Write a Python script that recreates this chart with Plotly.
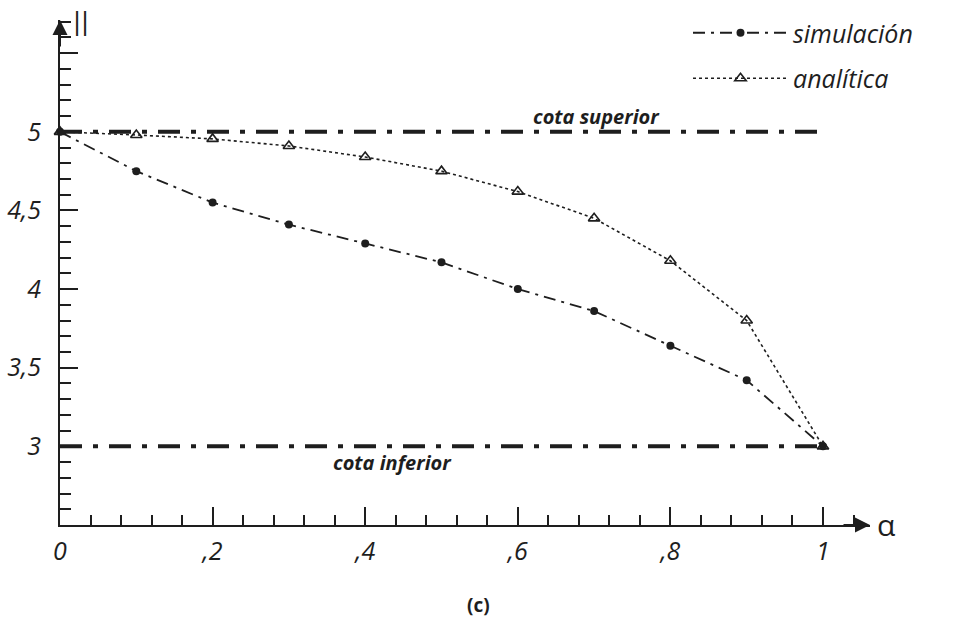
import plotly.graph_objects as go

# ---- data ----
alpha = [0.0, 0.1, 0.2, 0.3, 0.4, 0.5, 0.6, 0.7, 0.8, 0.9, 1.0]
simulacion = [5.0, 4.75, 4.55, 4.41, 4.29, 4.17, 4.0, 3.86, 3.64, 3.42, 3.0]
analitica = [5.0, 4.98, 4.955, 4.91, 4.84, 4.75, 4.62, 4.45, 4.18, 3.80, 3.0]
cota_x = [0.0, 1.0]
cota_superior = [5.0, 5.0]
cota_inferior = [3.0, 3.0]
x_tickvals = [0, 0.2, 0.4, 0.6, 0.8, 1.0]
x_ticktext = ["0", ",2", ",4", ",6", ",8", "1"]
y_tickvals = [3, 3.5, 4, 4.5, 5, 5.5]
y_ticktext = ["3", "3,5", "4", "4,5", "5", ""]

INK = "#1e1e1e"
FONT = "Open Sans"

W, H = 955, 627
L, R, T, B = 60, 85, 20, 102
plot_w = W - L - R
plot_h = H - T - B


def px_to_paper(px, py):
    return (px - L) / plot_w, (H - B - py) / plot_h


fig = go.Figure()

# bounds
for yy in (cota_superior, cota_inferior):
    fig.add_trace(go.Scatter(
        x=cota_x, y=yy, mode="lines", showlegend=False, hoverinfo="skip",
        line=dict(color=INK, width=4, dash="22px,11px,5px,11px")))

fig.add_trace(go.Scatter(
    x=alpha, y=simulacion, mode="lines+markers", name="<i>simulación</i>",
    legendgroup="a",
    line=dict(color=INK, width=1.8, dash="12px,6px,3px,6px"),
    marker=dict(symbol="circle", size=8, color=INK),
    cliponaxis=False))

fig.add_trace(go.Scatter(
    x=alpha, y=analitica, mode="lines+markers", name="<i>analítica</i>",
    legendgroup="b",
    line=dict(color=INK, width=1.6, dash="dot"),
    marker=dict(symbol="triangle-up-open", size=10, color=INK,
                line=dict(width=1.6, color=INK)),
    cliponaxis=False))

annotations = []
# labels for bounds
annotations.append(dict(x=(596 - L) / 763, y=5 + (132 - 117) / 157.5, xref="x", yref="y",
                        text="<b><i>cota superior</i></b>", showarrow=False,
                        xanchor="center", yanchor="middle",
                        font=dict(family=FONT, size=20, color=INK)))
annotations.append(dict(x=(392 - L) / 763, y=3 - (463 - 447) / 157.5, xref="x", yref="y",
                        text="<b><i>cota inferior</i></b>", showarrow=False,
                        xanchor="center", yanchor="middle",
                        font=dict(family=FONT, size=20, color=INK)))
# axis arrows
annotations.append(dict(x=0, y=1, xref="paper", yref="paper", ax=0, ay=28,
                        text="", showarrow=True, arrowhead=2, arrowsize=1.5,
                        arrowwidth=2, arrowcolor=INK))
annotations.append(dict(x=1, y=0, xref="paper", yref="paper", ax=-28, ay=0,
                        text="", showarrow=True, arrowhead=2, arrowsize=1.5,
                        arrowwidth=2, arrowcolor=INK))
# axis titles
px, py = px_to_paper(81, 22)
annotations.append(dict(x=px, y=py, xref="paper", yref="paper", text="||",
                        showarrow=False, xanchor="center", yanchor="middle",
                        font=dict(family="DejaVu Sans", size=24, color=INK)))
px, py = px_to_paper(886, 524)
annotations.append(dict(x=px, y=py, xref="paper", yref="paper", text="α",
                        showarrow=False, xanchor="center", yanchor="middle",
                        font=dict(family=FONT, size=30, color=INK)))
px, py = px_to_paper(478, 605)
annotations.append(dict(x=px, y=py, xref="paper", yref="paper", text="<b>(c)</b>",
                        showarrow=False, xanchor="center", yanchor="middle",
                        font=dict(family=FONT, size=19, color=INK)))

lx, ly = px_to_paper(688, 10)

fig.update_layout(
    width=W, height=H,
    margin=dict(l=L, r=R, t=T, b=B, pad=0, autoexpand=False),
    paper_bgcolor="white", plot_bgcolor="white",
    font=dict(family=FONT, color=INK),
    annotations=annotations,
    showlegend=True,
    legend=dict(x=lx, y=ly, xanchor="left", yanchor="top",
                font=dict(family=FONT, size=25, color=INK),
                itemwidth=95, tracegroupgap=10, bgcolor="rgba(0,0,0,0)"),
    xaxis=dict(range=[0, plot_w / 763], showgrid=False, zeroline=False,
               automargin=False,
               showline=True, linecolor=INK, linewidth=2,
               tickvals=x_tickvals, ticktext=x_ticktext,
               ticks="inside", ticklen=18, tickwidth=2, tickcolor=INK,
               tickfont=dict(family=FONT, size=25, color=INK, style="italic"),
               ticklabelstandoff=3,
               minor=dict(dtick=0.04, tick0=0, ticks="inside", ticklen=10,
                          tickwidth=2, tickcolor=INK, showgrid=False)),
    yaxis=dict(range=[2.5, 5 + (132 - T) / 157.5], showgrid=False, zeroline=False,
               automargin=False,
               showline=True, linecolor=INK, linewidth=2,
               tickvals=y_tickvals, ticktext=y_ticktext,
               ticks="inside", ticklen=18, tickwidth=2, tickcolor=INK,
               tickfont=dict(family=FONT, size=25, color=INK, style="italic"),
               ticklabelstandoff=12,
               minor=dict(dtick=0.1, tick0=2.5, ticks="inside", ticklen=11,
                          tickwidth=2, tickcolor=INK, showgrid=False)),
)

fig.write_html("out.html")
